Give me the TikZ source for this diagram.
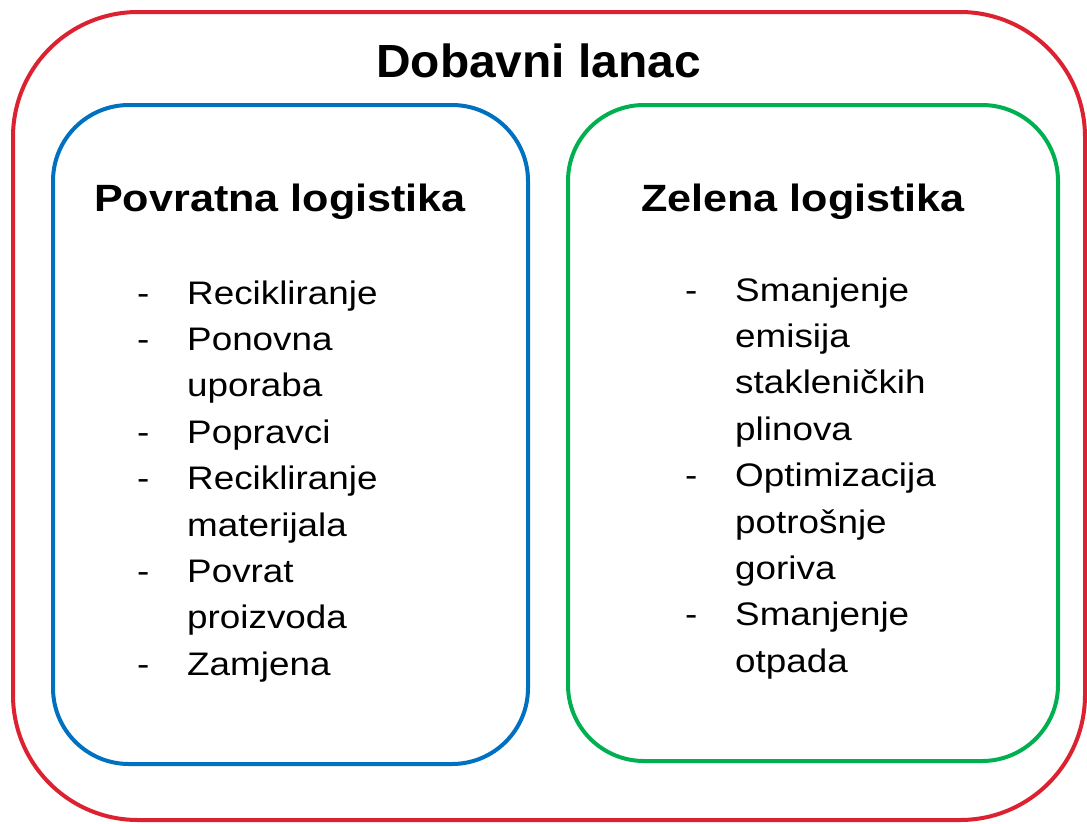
\documentclass[tikz,border=0pt]{standalone}
\usepackage{fontspec}
\setmainfont{Liberation Sans}
\usepackage{graphicx}
\definecolor{redc}{HTML}{DC2230}
\definecolor{bluec}{HTML}{0070C0}
\definecolor{greenc}{HTML}{00B050}
\tikzset{
  frame/.style={line width=4pt},
  titletxt/.style={anchor=base west, inner sep=0pt, font=\fontsize{46.5}{52}\selectfont\bfseries},
  headtxt/.style={anchor=base west, inner sep=0pt, font=\fontsize{38}{44}\selectfont\bfseries},
  itemtxt/.style={anchor=base west, inner sep=0pt, font=\fontsize{32.6}{40}\selectfont},
}
\newcommand{\tsc}[1]{\scalebox{1.03}[1]{#1}}
\newcommand{\hsc}[1]{\scalebox{1.135}[1]{#1}}
\newcommand{\isc}[1]{\scalebox{1.13}[1]{#1}}
\begin{document}
\begin{tikzpicture}[x=1pt,y=-1pt]
\useasboundingbox (0,0) rectangle (1087,823);
% frames
\draw[frame, redc, rounded corners=125pt] (13,12) rectangle (1085,820);
\draw[frame, bluec, rounded corners=76pt] (53,105) rectangle (528,764);
\draw[frame, greenc, rounded corners=76pt] (568,105) rectangle (1058,761);
% titles
\node[titletxt] (title) at (376,77) {\tsc{Dobavni lanac}};
\node[headtxt] (h1) at (94,211) {\hsc{Povratna logistika}};
\node[headtxt] (h2) at (641,211) {\hsc{Zelena logistika}};
% left list
\foreach \t/\d [count=\i from 0] in {Recikliranje/1, Ponovna/1, uporaba/0, Popravci/1, Recikliranje/1, materijala/0, Povrat/1, proizvoda/0, Zamjena/1}{
  \node[itemtxt] (l\i) at (187,304+46.4*\i) {\isc{\t}};
  \ifnum\d=1 \node[itemtxt] (ld\i) at (137,304+46.4*\i) {\isc{-}};\fi
}
% right list
\foreach \t/\d [count=\i from 0] in {Smanjenje/1, emisija/0, stakleničkih/0, plinova/0, Optimizacija/1, potrošnje/0, goriva/0, Smanjenje/1, otpada/0}{
  \node[itemtxt] (r\i) at (735,301+46.4*\i) {\isc{\t}};
  \ifnum\d=1 \node[itemtxt] (rd\i) at (685,301+46.4*\i) {\isc{-}};\fi
}
\end{tikzpicture}
\end{document}
